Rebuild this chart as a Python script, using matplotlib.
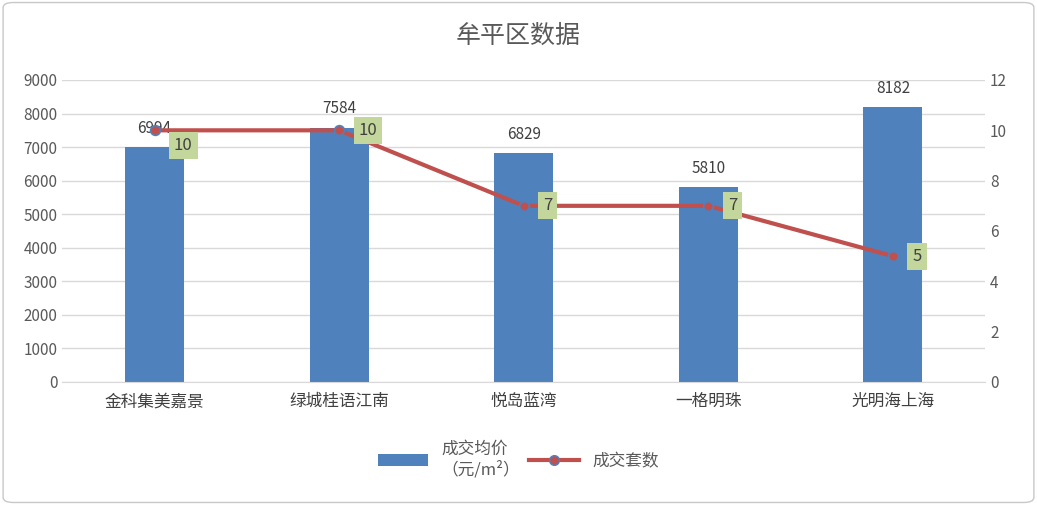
import matplotlib
matplotlib.use("Agg")
import matplotlib.pyplot as plt
from matplotlib.patches import FancyBboxPatch
from matplotlib.lines import Line2D
from matplotlib.patches import Patch

plt.rcParams['font.family'] = ['Noto Sans CJK SC', 'DejaVu Sans']

categories = ["金科集美嘉景", "绿城桂语江南", "悦岛蓝湾", "一格明珠", "光明海上海"]
price = [6994, 7584, 6829, 5810, 8182]
count = [10, 10, 7, 7, 5]
title = "牟平区数据"

fig = plt.figure(figsize=(10.37, 5.05), dpi=100)
fig.patches.append(FancyBboxPatch((0.003, 0.005), 0.994, 0.99, boxstyle="round,pad=0,rounding_size=0.01",
                                  transform=fig.transFigure, fc='white', ec='#c8c8c8', lw=1, zorder=-10))
ax = fig.add_axes([0.06, 0.2436, 0.89, 0.598])
ax.set_facecolor('none')
x = list(range(len(categories)))
ax.bar(x, price, width=0.32, color='#4f81bd', zorder=2)
ax.set_ylim(0, 9000)
ax.set_yticks(range(0, 9001, 1000))
ax.set_xlim(-0.5, 4.5)
ax.set_xticks(x)
ax.set_xticklabels(categories, fontsize=12, color='#404040')
ax.grid(axis='y', color='#d9d9d9', lw=1, zorder=0)
for s in ['top', 'right', 'left']:
    ax.spines[s].set_visible(False)
ax.spines['bottom'].set_color('#d9d9d9')
ax.tick_params(axis='both', length=0, labelsize=11, colors='#595959')
ax.tick_params(axis='x', pad=8, labelcolor='#404040', labelsize=12)
for i, v in enumerate(price):
    ax.text(i, v + 300, str(v), ha='center', va='bottom', fontsize=11, color='#404040')

ax2 = ax.twinx()
ax2.set_ylim(0, 12)
ax2.set_yticks(range(0, 13, 2))
for s in ['top', 'right', 'left', 'bottom']:
    ax2.spines[s].set_visible(False)
ax2.tick_params(axis='y', length=0, labelsize=11, colors='#595959')
ax2.plot(x, count, color='#c0504d', lw=3, marker='o', markersize=7,
         markerfacecolor='#c0504d', markeredgecolor='#4f81bd', markeredgewidth=1.2, zorder=3)
for i, v in enumerate(count):
    ax2.annotate(str(v), (i, v), xytext=(14, -11 if i == 0 else 0), textcoords='offset points',
                 ha='left', va='center', fontsize=12, color='#404040',
                 bbox=dict(boxstyle='square,pad=0.3', fc='#c3d69b', ec='none'))

fig.text(0.5, 0.93, title, ha='center', va='center', fontsize=18, color='#595959')

h1 = Patch(facecolor='#4f81bd')
h2 = Line2D([], [], color='#c0504d', lw=3, marker='o', markersize=7,
            markerfacecolor='#c0504d', markeredgecolor='#4f81bd')
fig.legend([h1, h2], ["成交均价\n（元/m²）", "成交套数"], loc='center', bbox_to_anchor=(0.5, 0.09),
           ncol=2, frameon=False, fontsize=12, labelcolor='#595959', handlelength=3, columnspacing=0.5)
fig.savefig("out.png", dpi=100)
